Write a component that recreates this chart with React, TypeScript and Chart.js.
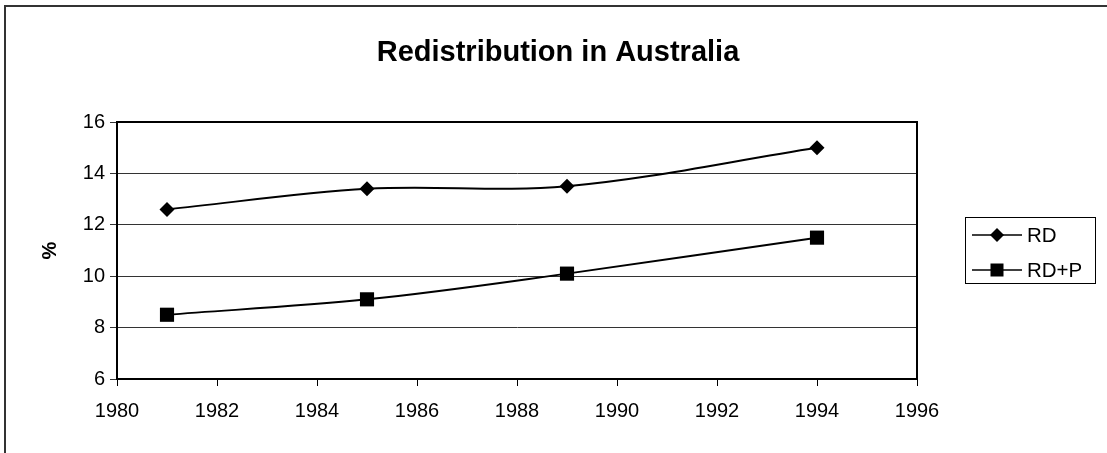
import React, { useEffect, useRef } from "react";
import { Chart, registerables } from "chart.js";

Chart.register(...registerables);

// ---- data ----
const years = [1981, 1985, 1989, 1994];
const rdValues = [12.6, 13.4, 13.5, 15.0];
const rdpValues = [8.5, 9.1, 10.1, 11.5];
const seriesLabels = ["RD", "RD+P"];
const xTicks = { min: 1980, max: 1996, step: 2 };
const yTicks = { min: 6, max: 16, step: 2 };
const titleText = "Redistribution in Australia";
const yAxisTitle = "%";

const FONT = "'Liberation Sans', Arial, Helvetica, sans-serif";
const W = 1107;
const H = 453;

const framePlugin = {
  id: "frame",
  afterDatasetsDraw(chart: any) {
    const { ctx, chartArea } = chart;
    ctx.save();
    ctx.strokeStyle = "#000";
    ctx.lineWidth = 2;
    ctx.strokeRect(chartArea.left, chartArea.top, chartArea.right - chartArea.left, chartArea.bottom - chartArea.top);
    ctx.restore();
  },
};

const titlePlugin = {
  id: "excelTitle",
  afterDraw(chart: any) {
    const { ctx } = chart;
    ctx.save();
    ctx.fillStyle = "#000";
    ctx.font = `bold 29px ${FONT}`;
    ctx.textAlign = "center";
    ctx.textBaseline = "middle";
    ctx.fillText(titleText, 558, 53);
    ctx.restore();
  },
};

function drawMarker(ctx: CanvasRenderingContext2D, style: string, x: number, y: number, r: number) {
  ctx.beginPath();
  if (style === "rectRot") {
    ctx.moveTo(x, y - r);
    ctx.lineTo(x + r, y);
    ctx.lineTo(x, y + r);
    ctx.lineTo(x - r, y);
    ctx.closePath();
  } else {
    ctx.rect(x - r, y - r, 2 * r, 2 * r);
  }
  ctx.fill();
}

const legendPlugin = {
  id: "excelLegend",
  afterDraw(chart: any) {
    const { ctx } = chart;
    const box = { x: 965, y: 217, w: 130, h: 66 };
    ctx.save();
    ctx.fillStyle = "#fff";
    ctx.fillRect(box.x, box.y, box.w, box.h);
    ctx.strokeStyle = "#000";
    ctx.lineWidth = 1;
    ctx.strokeRect(box.x + 0.5, box.y + 0.5, box.w, box.h);
    chart.data.datasets.forEach((ds: any, i: number) => {
      const cy = 235 + i * 35;
      ctx.strokeStyle = "#000";
      ctx.lineWidth = 1.5;
      ctx.beginPath();
      ctx.moveTo(972, cy);
      ctx.lineTo(1022, cy);
      ctx.stroke();
      ctx.fillStyle = "#000";
      drawMarker(ctx, ds.pointStyle, 997, cy, ds.pointStyle === "rectRot" ? 7 : 6.5);
      ctx.font = `20.5px ${FONT}`;
      ctx.textAlign = "left";
      ctx.textBaseline = "middle";
      ctx.fillText(ds.label, 1027, cy + 1);
    });
    ctx.restore();
  },
};

export default function App() {
  const canvasRef = useRef<HTMLCanvasElement | null>(null);

  useEffect(() => {
    const canvas = canvasRef.current;
    if (!canvas) return;
    const chart = new Chart(canvas, {
      type: "line",
      data: {
        datasets: [
          {
            label: seriesLabels[0],
            data: years.map((x, i) => ({ x, y: rdValues[i] })),
            borderColor: "#000",
            backgroundColor: "#000",
            borderWidth: 2,
            pointStyle: "rectRot",
            pointRadius: 7.5,
            pointBackgroundColor: "#000",
            pointBorderWidth: 0,
            tension: 0.35,
          },
          {
            label: seriesLabels[1],
            data: years.map((x, i) => ({ x, y: rdpValues[i] })),
            borderColor: "#000",
            backgroundColor: "#000",
            borderWidth: 2,
            pointStyle: "rect",
            pointRadius: 10,
            pointBackgroundColor: "#000",
            pointBorderWidth: 0,
            tension: 0.35,
          },
        ],
      },
      options: {
        animation: false,
        responsive: false,
        maintainAspectRatio: false,
        devicePixelRatio: 1,
        layout: { padding: { left: 0, right: W - 917, top: 122, bottom: 0 } },
        plugins: {
          legend: { display: false },
          title: { display: false },
          tooltip: { enabled: false },
        },
        scales: {
          x: {
            type: "linear",
            min: xTicks.min,
            max: xTicks.max,
            ticks: {
              stepSize: xTicks.step,
              color: "#000",
              font: { family: FONT, size: 20 },
              padding: 13,
              maxRotation: 0,
              callback: (v: any) => String(v),
            },
            grid: { drawOnChartArea: false, drawTicks: true, tickLength: 7, color: "#000", lineWidth: 1 },
            border: { display: true, color: "#000", width: 2 },
            afterFit: (scale: any) => {
              scale.height = H - 379;
            },
          },
          y: {
            min: yTicks.min,
            max: yTicks.max,
            ticks: {
              stepSize: yTicks.step,
              color: "#000",
              font: { family: FONT, size: 20 },
              padding: 5,
            },
            grid: { drawOnChartArea: true, drawTicks: true, tickLength: 7, color: "#333", lineWidth: 1 },
            border: { display: true, color: "#000", width: 2 },
            title: {
              display: true,
              text: yAxisTitle,
              color: "#000",
              font: { family: FONT, size: 20, weight: "bold" },
              padding: { top: 38, bottom: 0 },
            },
            afterFit: (scale: any) => {
              scale.width = 117;
            },
          },
        },
      },
      plugins: [framePlugin, titlePlugin, legendPlugin],
    });
    return () => chart.destroy();
  }, []);

  return (
    <div style={{ position: "absolute", left: 0, top: 0, width: W, height: H, background: "#fff", overflow: "hidden" }}>
      <div style={{ position: "absolute", left: 4, top: 5, width: W, height: H, borderTop: "2px solid #333", borderLeft: "2px solid #333" }} />
      <canvas ref={canvasRef} width={W} height={H} style={{ position: "absolute", left: 0, top: 0, width: W, height: H }} />
    </div>
  );
}
